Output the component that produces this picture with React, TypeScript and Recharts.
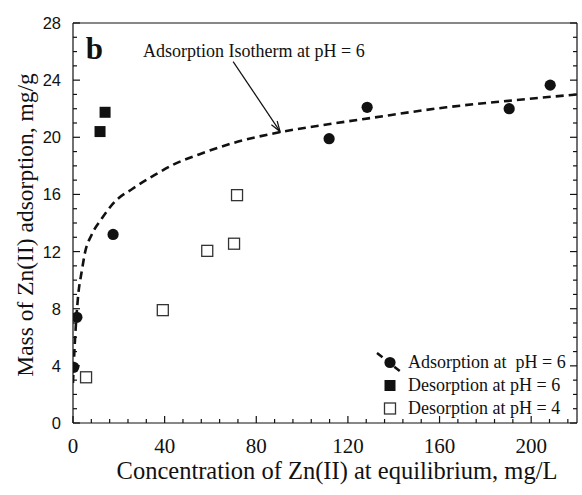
import React from 'react';
import {
  ComposedChart, Scatter, Line, XAxis, YAxis, ReferenceLine, ReferenceDot, Legend,
} from 'recharts';

// ---- data ----
const adsorptionPH6 = [
  { x: 0.3, y: 3.9 },
  { x: 1.7, y: 7.4 },
  { x: 17.5, y: 13.2 },
  { x: 111.8, y: 19.9 },
  { x: 128.4, y: 22.1 },
  { x: 190.4, y: 22.0 },
  { x: 208.3, y: 23.65 },
];
const desorptionPH6 = [
  { x: 11.8, y: 20.4 },
  { x: 14.0, y: 21.75 },
];
const desorptionPH4 = [
  { x: 5.7, y: 3.2 },
  { x: 39.2, y: 7.9 },
  { x: 58.6, y: 12.05 },
  { x: 70.3, y: 12.55 },
  { x: 71.6, y: 15.95 },
];
const isothermCurve = [
  { x: 0, y: 2.8 },
  { x: 0.6, y: 5.0 },
  { x: 1.4, y: 7.2 },
  { x: 2.3, y: 9.0 },
  { x: 3.8, y: 10.6 },
  { x: 5.2, y: 11.9 },
  { x: 8.2, y: 13.2 },
  { x: 12.5, y: 14.3 },
  { x: 18.3, y: 15.5 },
  { x: 26, y: 16.4 },
  { x: 35, y: 17.3 },
  { x: 44, y: 18.1 },
  { x: 55, y: 18.8 },
  { x: 70, y: 19.6 },
  { x: 90, y: 20.35 },
  { x: 109, y: 20.85 },
  { x: 130, y: 21.35 },
  { x: 163, y: 22.1 },
  { x: 190, y: 22.55 },
  { x: 220, y: 23.0 },
];
const xTicks = [0, 8, 16, 24, 32, 40, 48, 56, 64, 72, 80, 88, 96, 104, 112, 120, 128, 136, 144, 152, 160, 168, 176, 184, 192, 200, 208, 216];
const xMajor = [0, 40, 80, 120, 160, 200];
const yTicks = [0, 1, 2, 3, 4, 5, 6, 7, 8, 9, 10, 11, 12, 13, 14, 15, 16, 17, 18, 19, 20, 21, 22, 23, 24, 25, 26, 27, 28];
const yMajor = [0, 4, 8, 12, 16, 20, 24, 28];
const legendItems = ['Adsorption at  pH = 6', 'Desorption at pH = 6', 'Desorption at pH = 4'];
const xTitle = 'Concentration of Zn(II) at equilibrium, mg/L';
const yTitle = 'Mass of Zn(II) adsorption, mg/g';
const annotationText = 'Adsorption Isotherm at pH = 6';
const panelLetter = 'b';
const arrowSegment = [{ x: 69.9, y: 25.3 }, { x: 90.4, y: 20.4 }];
const annotationPos = { x: 30.6, y: 25.6 };
const letterPos = { x: 5.6, y: 25.5 };

const SERIF = "'Liberation Serif', 'Times New Roman', serif";
const SANS = "'Liberation Sans', Arial, sans-serif";
const INK = '#111';

const BottomTick = (props: any) => {
  const { x, y, payload } = props;
  const v = payload.value;
  const major = xMajor.includes(v);
  return (
    <g>
      <line x1={x} x2={x} y1={y} y2={y - (major ? 7 : 4)} stroke={INK} strokeWidth={1.2} />
      {major && (
        <text x={x} y={y + 30} textAnchor="middle" fontFamily={SERIF} fontSize={21} fill={INK}>{v}</text>
      )}
    </g>
  );
};
const TopTick = (props: any) => {
  const { x, y, payload } = props;
  const major = xMajor.includes(payload.value);
  return <line x1={x} x2={x} y1={y} y2={y + (major ? 7 : 4)} stroke={INK} strokeWidth={1.2} />;
};
const LeftTick = (props: any) => {
  const { x, y, payload } = props;
  const v = payload.value;
  const major = yMajor.includes(v);
  return (
    <g>
      <line x1={x} x2={x + (major ? 7 : 4)} y1={y} y2={y} stroke={INK} strokeWidth={1.2} />
      {major && (
        <text x={x - 12} y={y + 6} textAnchor="end" fontFamily={SANS} fontSize={16.5} fill={INK}>{v}</text>
      )}
    </g>
  );
};
const RightTick = (props: any) => {
  const { x, y, payload } = props;
  const major = yMajor.includes(payload.value);
  return <line x1={x} x2={x - (major ? 7 : 4)} y1={y} y2={y} stroke={INK} strokeWidth={1.2} />;
};

const CircleShape = (p: any) => <circle cx={p.cx} cy={p.cy} r={5.6} fill={INK} />;
const FilledSquare = (p: any) => <rect x={p.cx - 5.5} y={p.cy - 5.5} width={11} height={11} fill={INK} />;
const OpenSquare = (p: any) => (
  <rect x={p.cx - 5.5} y={p.cy - 5.5} width={11} height={11} fill="#fff" stroke="#333" strokeWidth={1.3} />
);

const ArrowShape = (p: any) => {
  const { x1, y1, x2, y2 } = p;
  const ang = Math.atan2(y2 - y1, x2 - x1);
  const len = 11;
  const spread = 0.32;
  const ax = x2 - len * Math.cos(ang - spread);
  const ay = y2 - len * Math.sin(ang - spread);
  const bx = x2 - len * Math.cos(ang + spread);
  const by = y2 - len * Math.sin(ang + spread);
  return (
    <g>
      <line x1={x1} y1={y1} x2={x2} y2={y2} stroke={INK} strokeWidth={1.2} />
      <polyline points={`${ax},${ay} ${x2},${y2} ${bx},${by}`} fill="none" stroke={INK} strokeWidth={1.2} />
    </g>
  );
};

const LegendContent = () => (
  <div style={{ fontFamily: SERIF, fontSize: 18, color: INK, lineHeight: '23px' }}>
    {legendItems.map((label, i) => (
      <div key={label} style={{ display: 'flex', alignItems: 'center', height: 23 }}>
        <svg width={33} height={23} style={{ display: 'block', flex: 'none' }}>
          {i === 0 && (
            <g>
              <line x1={2} y1={2} x2={26} y2={21} stroke={INK} strokeWidth={2.5} strokeDasharray="7 4" />
              <circle cx={15} cy={11.5} r={5.6} fill={INK} />
            </g>
          )}
          {i === 1 && <rect x={9.5} y={6} width={11} height={11} fill={INK} />}
          {i === 2 && <rect x={9.5} y={6} width={11} height={11} fill="#fff" stroke="#333" strokeWidth={1.3} />}
        </svg>
        <span style={{ whiteSpace: 'pre' }}>{label}</span>
      </div>
    ))}
  </div>
);

export default function App() {
  return (
    <div style={{ position: 'absolute', left: 0, top: 0, background: '#fff' }}>
      <ComposedChart
        width={582}
        height={495}
        margin={{ top: 22, right: 4, bottom: 0, left: 0 }}
      >
        <XAxis
          xAxisId={0}
          dataKey="x"
          type="number"
          domain={[0, 220]}
          ticks={xTicks}
          interval={0}
          height={72}
          tickSize={0}
          tickMargin={0}
          tickLine={false}
          axisLine={{ stroke: INK, strokeWidth: 1.2 }}
          tick={<BottomTick />}
          allowDataOverflow
          label={{ value: xTitle, position: 'center', dy: 11, dx: 12, fontFamily: SERIF, fontSize: 24.5, fill: INK }}
        />
        <XAxis
          xAxisId="top"
          orientation="top"
          type="number"
          domain={[0, 220]}
          ticks={xTicks}
          interval={0}
          height={1}
          tickSize={0}
          tickMargin={0}
          tickLine={false}
          axisLine={{ stroke: INK, strokeWidth: 1.2 }}
          tick={<TopTick />}
          allowDataOverflow
        />
        <YAxis
          yAxisId={0}
          type="number"
          domain={[0, 28]}
          ticks={yTicks}
          interval={0}
          width={73}
          tickSize={0}
          tickMargin={0}
          tickLine={false}
          axisLine={{ stroke: INK, strokeWidth: 1.2 }}
          tick={<LeftTick />}
          allowDataOverflow
          label={{ value: yTitle, position: 'center', angle: -90, dx: -12, dy: 2, fontFamily: SERIF, fontSize: 23.5, fill: INK }}
        />
        <YAxis
          yAxisId="right"
          orientation="right"
          type="number"
          domain={[0, 28]}
          ticks={yTicks}
          interval={0}
          width={1}
          tickSize={0}
          tickMargin={0}
          tickLine={false}
          axisLine={{ stroke: INK, strokeWidth: 1.2 }}
          tick={<RightTick />}
          allowDataOverflow
        />
        <Line
          data={isothermCurve}
          dataKey="y"
          type="monotone"
          stroke={INK}
          strokeWidth={2.6}
          strokeDasharray="8 5"
          dot={false}
          activeDot={false}
          isAnimationActive={false}
        />
        <Scatter data={desorptionPH4} dataKey="y" shape={<OpenSquare />} isAnimationActive={false} />
        <Scatter data={desorptionPH6} dataKey="y" shape={<FilledSquare />} isAnimationActive={false} />
        <Scatter data={adsorptionPH6} dataKey="y" shape={<CircleShape />} isAnimationActive={false} />
        <ReferenceLine segment={arrowSegment} shape={<ArrowShape />} ifOverflow="visible" />
        <ReferenceDot
          x={annotationPos.x}
          y={annotationPos.y}
          ifOverflow="visible"
          shape={(p: any) => (
            <text x={p.cx} y={p.cy} fontFamily={SERIF} fontSize={18} fill={INK}>{annotationText}</text>
          )}
        />
        <ReferenceDot
          x={letterPos.x}
          y={letterPos.y}
          ifOverflow="visible"
          shape={(p: any) => (
            <text x={p.cx} y={p.cy} fontFamily={SERIF} fontSize={31} fontWeight="bold" fill={INK}>{panelLetter}</text>
          )}
        />
        <Legend
          layout="vertical"
          align="center"
          verticalAlign="middle"
          content={<LegendContent />}
          wrapperStyle={{ left: 375, top: 351, width: 205, height: 70 }}
        />
      </ComposedChart>
    </div>
  );
}
